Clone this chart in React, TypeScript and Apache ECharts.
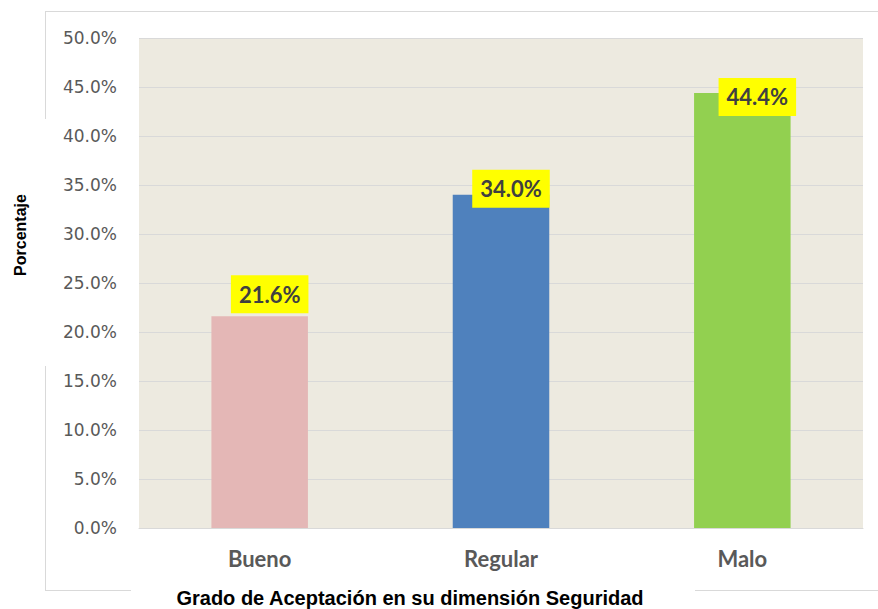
import React, { useEffect, useRef } from "react";
import * as echarts from "echarts";

const categories = ["Bueno", "Regular", "Malo"];
const values = [21.6, 34.0, 44.4];
const barColors = ["#e4b7b6", "#4f81bd", "#92d050"];
const yTicks = { min: 0, max: 50, interval: 5 };
const xTitle = "Grado de Aceptación en su dimensión Seguridad";
const yTitle = "Porcentaje";
// label placement (px) relative to bar top, as in the source chart
const labelOffsets = [[10, -3], [10, 13], [15, 23]];

export default function App() {
  const ref = useRef<HTMLDivElement>(null);
  useEffect(() => {
    const chart = echarts.init(ref.current!, null, { renderer: "svg" });
    chart.setOption({
      animation: false,
      backgroundColor: "#ffffff",
      grid: { left: 139, right: 15, top: 38, bottom: 81, show: true, backgroundColor: "#edeae0", borderWidth: 0 },
      xAxis: {
        type: "category",
        data: categories,
        axisLine: { show: true, lineStyle: { color: "#d9d9d9", width: 1 } },
        axisTick: { show: false },
        axisLabel: { color: "#595959", fontFamily: "Lato", fontWeight: "bold", fontSize: 22, margin: 19 },
      },
      yAxis: {
        type: "value",
        min: yTicks.min,
        max: yTicks.max,
        interval: yTicks.interval,
        axisLine: { show: false },
        axisTick: { show: false },
        splitLine: { lineStyle: { color: "#d9d9d9", width: 1 } },
        axisLabel: {
          color: "#595959",
          fontFamily: "DejaVu Sans",
          fontSize: 17,
          margin: 22,
          formatter: (v: number) => v.toFixed(1) + "%",
        },
      },
      series: [
        {
          type: "bar",
          barWidth: "40%",
          data: values.map((v, i) => ({
            value: v,
            itemStyle: { color: barColors[i] },
            label: { offset: labelOffsets[i] },
          })),
          label: {
            show: true,
            position: "top",
            distance: 0,
            formatter: (p: any) => p.value.toFixed(1) + "%",
            backgroundColor: "#ffff00",
            padding: [8, 8, 8, 8],
            lineHeight: 22,
            color: "#404040",
            fontFamily: "Lato",
            fontWeight: "bold",
            fontSize: 22,
          },
        },
      ],
      graphic: [
        { type: "line", shape: { x1: 45, y1: 11.5, x2: 878, y2: 11.5 }, style: { stroke: "#d9d9d9", lineWidth: 1 } },
        { type: "line", shape: { x1: 45.5, y1: 11, x2: 45.5, y2: 119 }, style: { stroke: "#d9d9d9", lineWidth: 1 } },
        { type: "line", shape: { x1: 45.5, y1: 366, x2: 45.5, y2: 590 }, style: { stroke: "#d9d9d9", lineWidth: 1 } },
        { type: "line", shape: { x1: 45, y1: 590.5, x2: 131, y2: 590.5 }, style: { stroke: "#d9d9d9", lineWidth: 1 } },
        { type: "line", shape: { x1: 695, y1: 590.5, x2: 878, y2: 590.5 }, style: { stroke: "#d9d9d9", lineWidth: 1 } },
        {
          type: "text",
          x: 410,
          y: 598,
          style: {
            text: xTitle,
            fill: "#000000",
            font: "bold 20px 'Liberation Sans'",
            textAlign: "center",
            textVerticalAlign: "middle",
          },
        },
        {
          type: "text",
          x: 20,
          y: 235,
          rotation: Math.PI / 2,
          style: {
            text: yTitle,
            fill: "#000000",
            font: "bold 16px 'Liberation Sans'",
            textAlign: "center",
            textVerticalAlign: "middle",
          },
        },
      ],
    });
    return () => chart.dispose();
  }, []);
  return <div ref={ref} style={{ width: 878, height: 609, position: "absolute", left: 0, top: 0 }} />;
}
